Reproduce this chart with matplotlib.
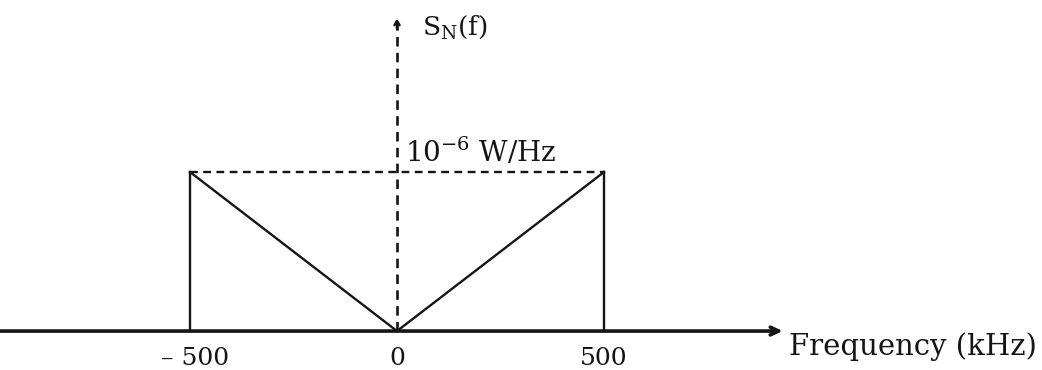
import matplotlib
matplotlib.use("Agg")
import matplotlib.pyplot as plt

# ---- data ----
freq_khz = [-500, 0, 500]          # frequency points of the PSD (kHz)
psd_level = [1, 0, 1]              # S_N(f) in units of 1e-6 W/Hz
band_edges = [-500, 500]           # band limits (kHz)
peak_level = 1                     # 10^-6 W/Hz
tick_values = [-500, 0, 500]
tick_labels = ["\u2013 500", "0", "500"]
xlabel = "Frequency (kHz)"
ylabel = r"S$_\mathregular{N}$(f)"
level_label = r"10$^{-6}$ W/Hz"

plt.rcParams["font.family"] = ["DejaVu Serif"]
plt.rcParams["mathtext.fontset"] = "dejavuserif"

fig = plt.figure(figsize=(10.42, 3.70), dpi=100)
ax = fig.add_axes([0, 0, 1, 1])
ax.set_xlim(-959, 1558)
ax.set_ylim(-0.245, 2.082)
ax.axis("off")

ink = "#151515"

# x axis with open arrow
ax.annotate("", xy=(932, 0), xytext=(-959, 0),
            arrowprops=dict(arrowstyle="->,head_length=0.6,head_width=0.28",
                            lw=2.6, color=ink, shrinkA=0, shrinkB=0))

# vertical dashed axis with small arrow head
ax.plot([0, 0], [0, 1.93], color=ink, lw=1.9, ls=(0, (3.6, 2.4)))
ax.annotate("", xy=(0, 1.965), xytext=(0, 1.90),
            arrowprops=dict(arrowstyle="->,head_length=0.3,head_width=0.18",
                            lw=1.8, color=ink, shrinkA=0, shrinkB=0))

# PSD: V-shaped spectrum
ax.plot(freq_khz, psd_level, color=ink, lw=1.7, solid_joinstyle="miter")
# band-edge vertical lines
for fe in band_edges:
    ax.plot([fe, fe], [0, peak_level], color=ink, lw=1.7)
# dashed level line
ax.plot(band_edges, [peak_level, peak_level], color=ink, lw=1.7,
        ls=(0, (3.3, 2.3)))

# labels
ax.text(60, 1.86, ylabel, fontsize=19, color=ink, ha="left", va="baseline")
ax.text(20, 1.063, level_label, fontsize=20, color=ink, ha="left",
        va="baseline")
for v, lab in zip(tick_values, tick_labels):
    ax.text(v + (12 if v < 0 else 0), -0.215, lab, fontsize=18, color=ink,
            ha="center", va="baseline")
ax.text(948, -0.15, xlabel, fontsize=21, color=ink, ha="left",
        va="baseline")

fig.savefig("out.png", dpi=100, facecolor="white")
